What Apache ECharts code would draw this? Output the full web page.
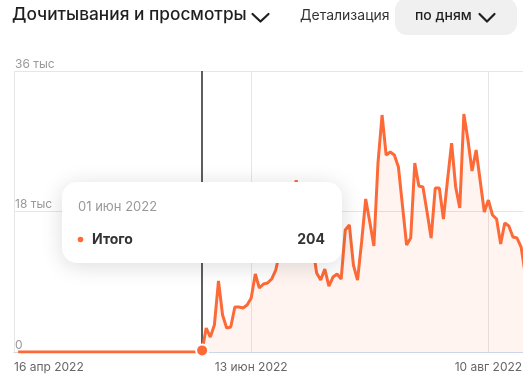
<!DOCTYPE html>
<html>
<head>
<meta charset="utf-8">
<style>
html,body{margin:0;padding:0;background:#fff;}
#c{width:523px;height:384px;}
</style>
<script src="https://cdn.jsdelivr.net/npm/echarts@6/dist/echarts.min.js"></script>
</head>
<body>
<div id="c"></div>
<script>
// Day offsets are counted from 16 Apr 2022 (offset 0)
const xTickLabels = ['16 апр 2022', '13 июн 2022', '10 авг 2022', '07 окт 2022'];
const yTickLabels = ['0', '18 тыс', '36 тыс'];
const firstDataOffset = 1; // 17 Apr 2022
// Daily values "Итого", 17 Apr 2022 onward
const totals = [
  0,0,0,0,0,0,0,0,0,0,0,0,0,0,0,0,0,0,0,0,0,0,0,0,0,0,0,0,0,0,
  0,0,0,0,0,0,0,0,0,0,0,0,0,0,0,
  204,3075,1920,3460,9100,4740,3075,3200,5765,5765,
  5640,6020,6920,9990,8200,8710,8840,9350,10500,12800,
  15600,17500,18800,22000,19500,17500,16300,13700,10120,9220,
  10630,8450,9600,9990,9350,15630,16270,11140,9220,14100,
  19600,16650,13580,24210,30360,25230,25620,25230,23700,18700,
  13710,14600,24210,21270,21140,17930,14600,21010,21010,17040,
  22030,26770,21140,18450,30490,27160,23190,25880,21900,17940,
  19470,17550,17040,13840,16530,16140,14730,14600,13450,10000
];
const hoverOffset = 46; // 01 июн 2022
const hoverDateLabel = '01 июн 2022';
const seriesName = 'Итого';

const COLOR = '#fd6a38';
const FONT = 'Inter, "Noto Sans", sans-serif';

const lineData = totals.map((v, i) => [firstDataOffset + i, v]);
const hoverValue = totals[hoverOffset - firstDataOffset];

const chart = echarts.init(document.getElementById('c'), null, {renderer: 'canvas'});
chart.setOption({
  animation: false,
  grid: {left: 14, top: 71, width: 711.6, height: 281, containLabel: false, outerBoundsMode: 'none'},
  xAxis: {
    type: 'value', min: 0, max: 174, interval: 58,
    axisLine: {show: true, lineStyle: {color: '#ccd6eb', width: 1}},
    axisTick: {show: false},
    splitLine: {show: true, lineStyle: {color: '#e6e6e6', width: 1}},
    axisLabel: {
      color: '#666', fontFamily: FONT, fontSize: 12, margin: 9,
      alignMinLabel: 'left', hideOverlap: false,
      formatter: v => xTickLabels[Math.round(v / 58)] || ''
    }
  },
  yAxis: {
    type: 'value', min: 0, max: 36000, interval: 18000,
    axisLine: {show: false}, axisTick: {show: false},
    splitLine: {show: true, lineStyle: {color: '#e6e6e6', width: 1}},
    axisLabel: {
      inside: true, margin: 1, align: 'left', verticalAlign: 'bottom',
      color: '#999', fontFamily: FONT, fontSize: 12, padding: [0, 0, 1, 0],
      formatter: v => yTickLabels[Math.round(v / 18000)]
    }
  },
  series: [{
    type: 'line', name: seriesName, data: lineData,
    showSymbol: false, symbol: 'none',
    lineStyle: {color: COLOR, width: 3},
    itemStyle: {color: COLOR},
    areaStyle: {color: COLOR, opacity: 0.075},
    z: 3,
    markLine: {
      silent: true, symbol: 'none', animation: false,
      label: {show: false},
      lineStyle: {color: '#5e5e5e', width: 2, type: 'solid'},
      data: [{xAxis: hoverOffset}],
      z: 2
    }
  }, {
    type: 'scatter', name: seriesName,
    data: [[hoverOffset, hoverValue]],
    symbol: 'circle', symbolSize: 12,
    itemStyle: {color: COLOR, borderColor: '#fff', borderWidth: 2, opacity: 1},
    z: 5
  }],
  graphic: [
    {type: 'text', left: 12, top: 6, z: 100,
      style: {text: 'Дочитывания и просмотры', fontFamily: FONT, fontSize: 17.3, fontWeight: 500, fill: '#1f1f1f'}},
    {type: 'polyline', z: 100, shape: {points: [[252.5, 14], [260.5, 21.5], [268.5, 14]]},
      style: {stroke: '#1f1f1f', lineWidth: 2.2, fill: null, lineCap: 'round', lineJoin: 'round'}},
    {type: 'text', left: 300, top: 9, z: 100,
      style: {text: 'Детализация', fontFamily: FONT, fontSize: 14, fill: '#333'}},
    {type: 'rect', z: 99, shape: {x: 395, y: -2, width: 122, height: 37, r: 12},
      style: {fill: '#f0f0f0'}},
    {type: 'text', left: 415, top: 9, z: 100,
      style: {text: 'по дням', fontFamily: FONT, fontSize: 14, fontWeight: 500, fill: '#1f1f1f'}},
    {type: 'polyline', z: 100, shape: {points: [[479.5, 14], [487, 21.5], [494.5, 14]]},
      style: {stroke: '#1f1f1f', lineWidth: 2.2, fill: null, lineCap: 'round', lineJoin: 'round'}},
    // tooltip box
    {type: 'rect', z: 200, shape: {x: 62, y: 182, width: 280, height: 81, r: 15},
      style: {fill: '#fff', shadowBlur: 22, shadowColor: 'rgba(0,0,0,0.14)', shadowOffsetY: 3}},
    {type: 'text', z: 201, x: 78, y: 207,
      style: {text: hoverDateLabel, fontFamily: FONT, fontSize: 13, fill: '#999', verticalAlign: 'middle'}},
    {type: 'circle', z: 201, shape: {cx: 80.5, cy: 239.5, r: 2.8}, style: {fill: COLOR}},
    {type: 'text', z: 201, x: 92, y: 239.5,
      style: {text: seriesName, fontFamily: FONT, fontSize: 14, fontWeight: 'bold', fill: '#333', verticalAlign: 'middle'}},
    {type: 'text', z: 201, x: 325, y: 239.5,
      style: {text: String(hoverValue), fontFamily: FONT, fontSize: 14, fontWeight: 'bold', fill: '#333', align: 'right', verticalAlign: 'middle'}}
  ]
});
</script>
</body>
</html>
